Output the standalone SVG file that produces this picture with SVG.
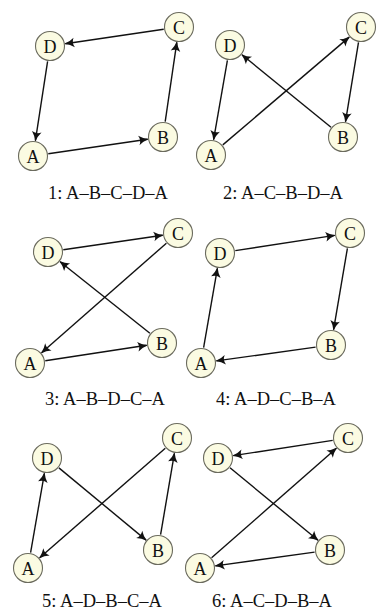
<svg xmlns="http://www.w3.org/2000/svg" width="378" height="612" viewBox="0 0 378 612">
<style>
.node circle{fill:#fbfbe2;stroke:#6b6b5e;stroke-width:1.1}
.node text{font-family:"Liberation Serif","DejaVu Serif",serif;font-size:18px;fill:#111;text-anchor:middle;dominant-baseline:central}
.edges line{stroke:#111;stroke-width:1.4;marker-end:url(#arr)}
.cap{font-family:"Liberation Serif","DejaVu Serif",serif;font-size:18.5px;fill:#111;text-anchor:middle}
</style>
<defs>
<marker id="arr" markerUnits="userSpaceOnUse" markerWidth="12" markerHeight="12" refX="0" refY="0" orient="auto" overflow="visible">
<path d="M1,0 Q-5,-1.6 -9,-4.8 Q-6.3,0 -9,4.8 Q-5,1.6 1,0Z" fill="#111"/>
</marker>
</defs>
<rect width="378" height="612" fill="#fff"/>
<g id="connectors" class="edges">
<line x1="48.3" y1="153.8" x2="147.7" y2="139.2"/>
<line x1="165.2" y1="121.7" x2="176.8" y2="42.3"/>
<line x1="163.7" y1="29.3" x2="65.3" y2="43.7"/>
<line x1="47.6" y1="61.3" x2="35.4" y2="140.7"/>

<line x1="222.8" y1="144.9" x2="349.2" y2="37.1"/>
<line x1="358.5" y1="42.3" x2="345.5" y2="121.7"/>
<line x1="331.0" y1="127.2" x2="242.0" y2="54.8"/>
<line x1="227.4" y1="60.3" x2="213.6" y2="139.7"/>

<line x1="45.3" y1="360.7" x2="146.7" y2="345.3"/>
<line x1="149.9" y1="333.3" x2="60.1" y2="261.7"/>
<line x1="63.3" y1="249.8" x2="162.7" y2="235.2"/>
<line x1="166.4" y1="243.2" x2="41.6" y2="352.8"/>

<line x1="203.6" y1="347.7" x2="217.4" y2="268.3"/>
<line x1="235.3" y1="250.6" x2="334.7" y2="235.4"/>
<line x1="347.4" y1="248.3" x2="333.6" y2="329.7"/>
<line x1="315.6" y1="347.1" x2="216.4" y2="360.9"/>

<line x1="30.6" y1="552.7" x2="44.4" y2="473.3"/>
<line x1="58.9" y1="467.9" x2="146.1" y2="540.1"/>
<line x1="160.6" y1="534.7" x2="174.4" y2="453.3"/>
<line x1="165.3" y1="448.2" x2="39.7" y2="557.8"/>

<line x1="211.6" y1="557.8" x2="336.4" y2="448.2"/>
<line x1="332.7" y1="440.4" x2="233.3" y2="455.6"/>
<line x1="230.0" y1="467.8" x2="318.0" y2="540.2"/>
<line x1="314.6" y1="552.1" x2="215.4" y2="565.9"/>
</g>

<g id="p1-A" class="node"><circle cx="33" cy="156" r="14.5"/><text x="33" y="157">A</text></g>
<g id="p1-B" class="node"><circle cx="163" cy="137" r="14.5"/><text x="163" y="138">B</text></g>
<g id="p1-C" class="node"><circle cx="179" cy="27" r="14.5"/><text x="179" y="28">C</text></g>
<g id="p1-D" class="node"><circle cx="50" cy="46" r="14.5"/><text x="50" y="47">D</text></g>

<g id="p2-A" class="node"><circle cx="211" cy="155" r="14.5"/><text x="211" y="156">A</text></g>
<g id="p2-B" class="node"><circle cx="343" cy="137" r="14.5"/><text x="343" y="138">B</text></g>
<g id="p2-C" class="node"><circle cx="361" cy="27" r="14.5"/><text x="361" y="28">C</text></g>
<g id="p2-D" class="node"><circle cx="230" cy="45" r="14.5"/><text x="230" y="46">D</text></g>

<g id="p3-A" class="node"><circle cx="30" cy="363" r="14.5"/><text x="30" y="364">A</text></g>
<g id="p3-B" class="node"><circle cx="162" cy="343" r="14.5"/><text x="162" y="344">B</text></g>
<g id="p3-C" class="node"><circle cx="178" cy="233" r="14.5"/><text x="178" y="234">C</text></g>
<g id="p3-D" class="node"><circle cx="48" cy="252" r="14.5"/><text x="48" y="253">D</text></g>

<g id="p4-A" class="node"><circle cx="201" cy="363" r="14.5"/><text x="201" y="364">A</text></g>
<g id="p4-B" class="node"><circle cx="331" cy="345" r="14.5"/><text x="331" y="346">B</text></g>
<g id="p4-C" class="node"><circle cx="350" cy="233" r="14.5"/><text x="350" y="234">C</text></g>
<g id="p4-D" class="node"><circle cx="220" cy="253" r="14.5"/><text x="220" y="254">D</text></g>

<g id="p5-A" class="node"><circle cx="28" cy="568" r="14.5"/><text x="28" y="569">A</text></g>
<g id="p5-B" class="node"><circle cx="158" cy="550" r="14.5"/><text x="158" y="551">B</text></g>
<g id="p5-C" class="node"><circle cx="177" cy="438" r="14.5"/><text x="177" y="439">C</text></g>
<g id="p5-D" class="node"><circle cx="47" cy="458" r="14.5"/><text x="47" y="459">D</text></g>

<g id="p6-A" class="node"><circle cx="200" cy="568" r="14.5"/><text x="200" y="569">A</text></g>
<g id="p6-B" class="node"><circle cx="330" cy="550" r="14.5"/><text x="330" y="551">B</text></g>
<g id="p6-C" class="node"><circle cx="348" cy="438" r="14.5"/><text x="348" y="439">C</text></g>
<g id="p6-D" class="node"><circle cx="218" cy="458" r="14.5"/><text x="218" y="459">D</text></g>

<g id="captions">
<text class="cap" x="108" y="199">1: A–B–C–D–A</text>
<text class="cap" x="283" y="199">2: A–C–B–D–A</text>
<text class="cap" x="105" y="405">3: A–B–D–C–A</text>
<text class="cap" x="276" y="405">4: A–D–C–B–A</text>
<text class="cap" x="102" y="607">5: A–D–B–C–A</text>
<text class="cap" x="272" y="607">6: A–C–D–B–A</text>
</g>
</svg>
